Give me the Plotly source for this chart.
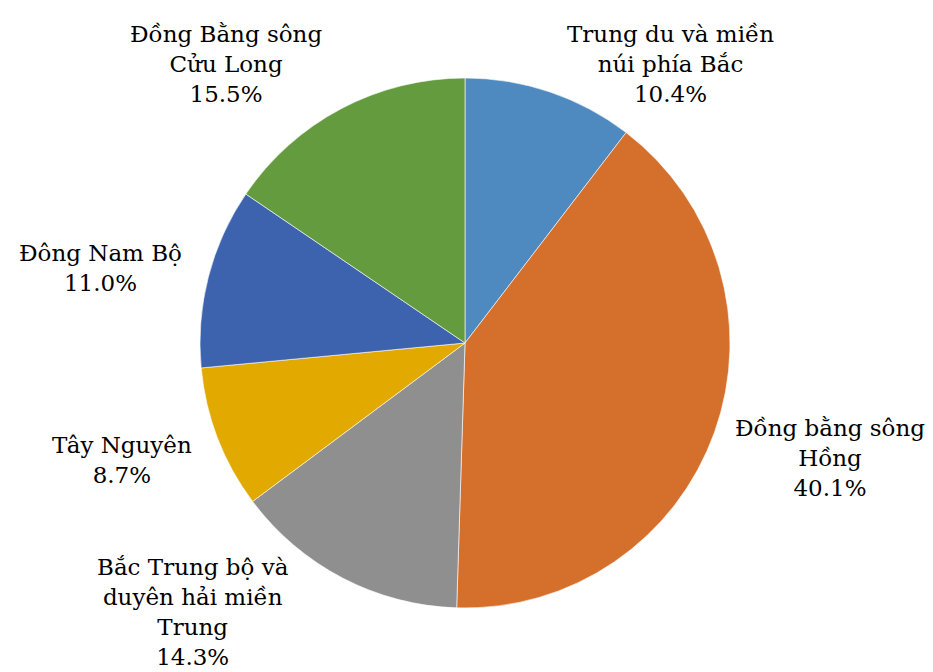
import plotly.graph_objects as go

# Regional shares (%), clockwise from 12 o'clock
regions = [
    "Trung du và miền<br>núi phía Bắc",
    "Đồng bằng sông<br>Hồng",
    "Bắc Trung bộ và<br>duyên hải miền<br>Trung",
    "Tây Nguyên",
    "Đông Nam Bộ",
    "Đồng Bằng sông<br>Cửu Long",
]
shares = [10.4, 40.1, 14.3, 8.7, 11.0, 15.5]
colors = ["#4E89BF", "#D46F2C", "#8F8F8F", "#E2A900", "#3E63AE", "#659B3F"]

# Label anchor points (pixel coordinates in the 933x672 canvas)
label_px = [(670, 64), (830, 458), (193, 612), (122, 460), (100, 268), (226, 64)]

W, H = 933, 672
cx, cy, r = 465, 343, 265
SERIF = "DejaVu Serif"

fig = go.Figure(
    go.Pie(
        labels=[l.replace("<br>", " ") for l in regions],
        values=shares,
        sort=False,
        direction="clockwise",
        rotation=0,
        marker=dict(colors=colors, line=dict(color="white", width=0.6)),
        textinfo="none",
        hoverinfo="label+percent",
        domain=dict(
            x=[(cx - r) / W, (cx + r) / W],
            y=[(H - cy - r) / H, (H - cy + r) / H],
        ),
    )
)

for name, val, (px, py) in zip(regions, shares, label_px):
    fig.add_annotation(
        x=px / W,
        y=1 - py / H,
        xref="paper",
        yref="paper",
        text=f"{name}<br>{val:.1f}%",
        showarrow=False,
        xanchor="center",
        yanchor="middle",
        align="center",
        font=dict(family=SERIF, size=23, color="black"),
    )

fig.update_layout(
    width=W,
    height=H,
    margin=dict(l=0, r=0, t=0, b=0),
    showlegend=False,
    paper_bgcolor="white",
    plot_bgcolor="white",
)

fig.write_html("out.html")
